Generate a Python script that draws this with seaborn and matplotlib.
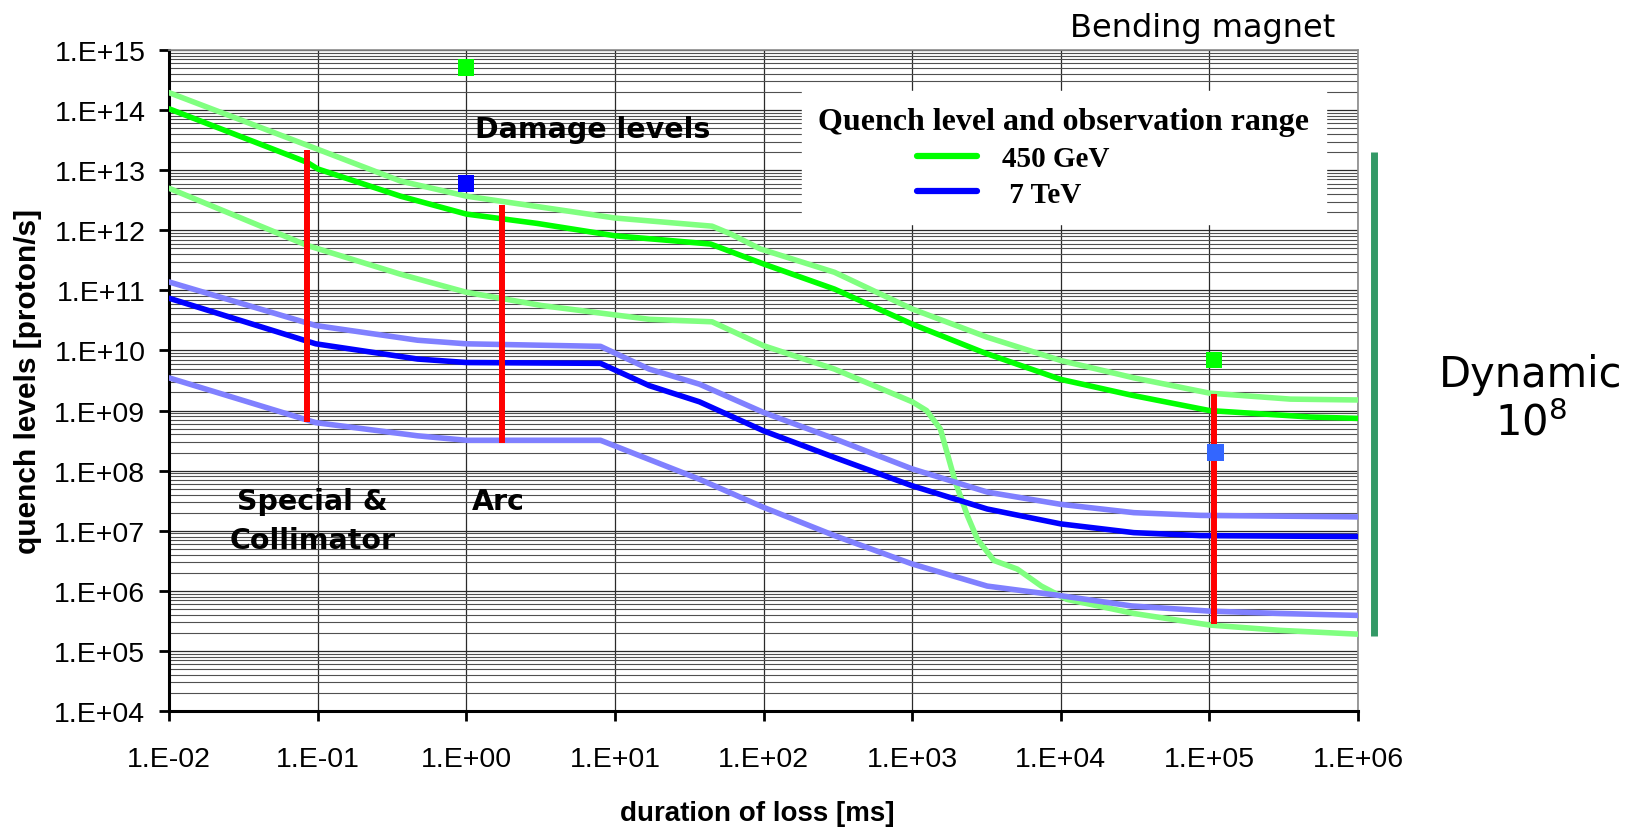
import matplotlib
matplotlib.use("Agg")
import matplotlib.pyplot as plt
import matplotlib.ticker as mticker
from matplotlib.lines import Line2D
import seaborn as sns
import numpy as np

# ── Data (duration in ms, level in proton/s) ────────────────────────────────
# 450 GeV quench level (central curve)
GEV_X = [0.01, 0.085, 0.1, 0.36, 1.0, 3.0, 10, 44, 100, 300, 1000, 3000,
         1e4, 3e4, 1e5, 4.8e5, 1e6]
GEV_Y = [1.05e14, 1.35e13, 1.05e13, 3.7e12, 1.86e12, 1.3e12, 8.1e11, 5.9e11,
         2.75e11, 1.05e11, 2.75e10, 9.3e9, 3.3e9, 1.8e9, 1.0e9, 7.8e8, 7.4e8]

# 450 GeV observation range, upper / lower
GEV_HI_X = [0.01, 0.085, 0.36, 1.0, 10, 45, 60, 95, 300, 1000, 3200, 1e4,
            3.1e4, 1e5, 3.5e5, 1e6]
GEV_HI_Y = [1.95e14, 2.6e13, 6.6e12, 3.7e12, 1.6e12, 1.17e12, 8.7e11, 4.9e11,
            2.0e11, 4.9e10, 1.66e10, 6.8e9, 3.5e9, 1.95e9, 1.55e9, 1.5e9]
GEV_LO_X = [0.01, 0.085, 0.36, 1.0, 3.2, 17, 45, 100, 300, 1000, 1250, 1550,
            1950, 2350, 2750, 3550, 5100, 7400, 1.1e4, 3.1e4, 1e5, 3e5, 1e6]
GEV_LO_Y = [5.0e12, 5.6e11, 1.86e11, 9.3e10, 5.6e10, 3.3e10, 3.0e10, 1.2e10,
            4.9e9, 1.4e9, 1.0e9, 4.9e8, 6.5e7, 1.8e7, 7.2e6, 3.2e6, 2.3e6,
            1.2e6, 7.2e5, 4.2e5, 2.7e5, 2.2e5, 1.9e5]

# 7 TeV quench level (central curve)
TEV_X = [0.01, 0.097, 0.47, 1.0, 8.0, 17, 37, 100, 300, 1000, 3200, 1e4,
         3.1e4, 8.7e4, 1e6]
TEV_Y = [7.4e10, 1.29e10, 7.2e9, 6.3e9, 6.1e9, 2.6e9, 1.4e9, 4.6e8, 1.66e8,
         5.6e7, 2.3e7, 1.3e7, 9.3e6, 8.3e6, 8.0e6]

# 7 TeV observation range, upper / lower
TEV_HI_X = [0.01, 0.097, 0.47, 1.0, 8.0, 17, 37, 100, 300, 1000, 3200, 1e4,
            3.1e4, 8.7e4, 1e6]
TEV_HI_Y = [1.38e11, 2.6e10, 1.48e10, 1.29e10, 1.17e10, 4.9e9, 2.75e9, 9.3e8,
            3.4e8, 1.07e8, 4.4e7, 2.75e7, 2.0e7, 1.8e7, 1.7e7]
TEV_LO_X = [0.01, 0.097, 0.47, 1.0, 8.0, 37, 100, 300, 1000, 3200, 1e4, 3e4,
            1e5, 3e5, 1e6]
TEV_LO_Y = [3.5e9, 6.3e8, 3.8e8, 3.2e8, 3.2e8, 7.2e7, 2.45e7, 8.3e6, 2.8e6,
            1.2e6, 8.3e5, 5.6e5, 4.6e5, 4.2e5, 3.9e5]

# observation ranges (red bars): position, bottom, top
RANGE_X = [0.085, 1.74, 1.08e5]
RANGE_LO = [6.5e8, 2.9e8, 2.8e5]
RANGE_HI = [2.15e13, 2.6e12, 1.85e9]

# damage levels (squares)
DMG_GEV_X = [1.0, 1.08e5]
DMG_GEV_Y = [5.1e14, 6.9e9]
DMG_TEV_X = [1.0]
DMG_TEV_Y = [6.0e12]
DMG_TEV2_X = [1.1e5]
DMG_TEV2_Y = [2.0e8]

# dynamic range bar on the right
DYN_X = 1.28e6
DYN_LO, DYN_HI = 1.8e5, 2.0e13

# axis decades
X_TICKS = [1e-2, 1e-1, 1e0, 1e1, 1e2, 1e3, 1e4, 1e5, 1e6]
Y_TICKS = [1e4, 1e5, 1e6, 1e7, 1e8, 1e9, 1e10, 1e11, 1e12, 1e13, 1e14, 1e15]

# ── Style ───────────────────────────────────────────────────────────────────
sns.set_theme(style="white", rc={"text.color": "black",
                                 "axes.labelcolor": "black",
                                 "xtick.color": "black",
                                 "ytick.color": "black"})
plt.rcParams["font.family"] = ["Liberation Sans", "DejaVu Sans"]

fig = plt.figure(figsize=(16.35, 8.29), dpi=100)
ax = fig.add_axes([0.1034, 0.1411, 0.7272, 0.7974])
ax.set_xscale("log")
ax.set_yscale("log")

curves = [
    (GEV_HI_X, GEV_HI_Y, "#80ff80"),
    (GEV_LO_X, GEV_LO_Y, "#80ff80"),
    (TEV_HI_X, TEV_HI_Y, "#8080ff"),
    (TEV_LO_X, TEV_LO_Y, "#8080ff"),
    (GEV_X, GEV_Y, "#00ff00"),
    (TEV_X, TEV_Y, "#0000ff"),
]
for xs, ys, col in curves:
    sns.lineplot(x=xs, y=ys, color=col, lw=4.0, sort=False, estimator=None,
                 legend=False, ax=ax, zorder=3)

# red observation bars
ax.vlines(RANGE_X, RANGE_LO, RANGE_HI, colors="#ff0000", lw=4.3, zorder=4)

# damage squares
sns.scatterplot(x=DMG_GEV_X, y=DMG_GEV_Y, marker="s", s=135, color="#00ff00",
                edgecolor="none", ax=ax, zorder=5)
sns.scatterplot(x=DMG_TEV_X, y=DMG_TEV_Y, marker="s", s=135, color="#0000ff",
                edgecolor="none", ax=ax, zorder=5)
sns.scatterplot(x=DMG_TEV2_X, y=DMG_TEV2_Y, marker="s", s=135, color="#3366ff",
                edgecolor="none", ax=ax, zorder=5)

# dynamic range bar outside the axes
ax.vlines(DYN_X, DYN_LO, DYN_HI, colors="#339966", lw=5, clip_on=False)

ax.set_xlim(1e-2, 1e6)
ax.set_ylim(1e4, 1e15)

# ticks & grid
fmt = mticker.FuncFormatter(lambda v, p: f"1.E{int(round(np.log10(v))):+03d}")
ax.xaxis.set_major_locator(mticker.FixedLocator(X_TICKS))
ax.yaxis.set_major_locator(mticker.FixedLocator(Y_TICKS))
ax.xaxis.set_major_formatter(fmt)
ax.yaxis.set_major_formatter(fmt)
ax.xaxis.set_minor_locator(mticker.NullLocator())
ax.yaxis.set_minor_locator(mticker.LogLocator(base=10, subs=np.arange(2, 10),
                                              numticks=200))
ax.yaxis.set_minor_formatter(mticker.NullFormatter())
ax.tick_params(axis="both", which="major", direction="out", length=7, width=2,
               labelsize=20.5, bottom=True, left=True)
ax.tick_params(axis="x", pad=18)
ax.tick_params(axis="y", pad=10)
ax.tick_params(axis="y", which="minor", length=0)
ax.grid(which="major", axis="both", color="#2a2a2a", lw=0.9, zorder=0)
ax.grid(which="minor", axis="y", color="#505050", lw=0.8, zorder=0)

for side in ["left", "bottom"]:
    ax.spines[side].set_color("black")
    ax.spines[side].set_linewidth(2.2)
for side in ["top", "right"]:
    ax.spines[side].set_color("#8a8a8a")
    ax.spines[side].set_linewidth(1.2)

ax.set_xlabel("duration of loss [ms]", fontsize=20, fontweight="bold")
ax.set_ylabel("quench levels [proton/s]", fontsize=21.5, fontweight="bold")
ax.xaxis.set_label_coords(0.495, -0.135)
ax.yaxis.set_label_coords(-0.107, 0.5)

# legend (trailing spaces push the entries left under the title)
title_font = {"family": "Liberation Serif", "weight": "bold", "size": 23}
entry_font = {"family": "Liberation Serif", "weight": "bold", "size": 21}
handles = [Line2D([], [], color="#00ff00", lw=4.5),
           Line2D([], [], color="#0000ff", lw=4.5)]
leg = ax.legend(handles, ["450 GeV" + " " * 14, " 7 TeV" + " " * 15],
                title="Quench level and observation range",
                title_fontproperties=title_font, prop=entry_font,
                loc="upper center", bbox_to_anchor=(0.7527, 0.938),
                borderaxespad=0, frameon=True, fancybox=False, framealpha=1,
                facecolor="white", edgecolor="white", handlelength=2.05,
                handletextpad=0.85, labelspacing=0.3, borderpad=0.55)
leg.set_zorder(6)

# annotations inside the plot
bold = dict(fontsize=20.5, fontweight="bold", family="DejaVu Sans",
            ha="center", va="baseline", zorder=6)
ax.text(7.1, 3.5e13, "Damage levels", **bold)
ax.text(0.092, 2.3e7, "Special &", **bold)
ax.text(0.092, 5.25e6, "Collimator", **bold)
ax.text(1.63, 2.3e7, "Arc", **bold)

# annotations around the plot
fig.text(1203 / 1635, 1 - 37.5 / 829, "Bending magnet", fontsize=23,
         family="DejaVu Sans", ha="center", va="baseline")
fig.text(1531 / 1635, 1 - 387 / 829, "Dynamic", fontsize=30,
         family="DejaVu Sans", ha="center", va="baseline")
fig.text(1531 / 1635, 1 - 436 / 829, r"$\mathregular{10^8}$", fontsize=30,
         family="DejaVu Sans", ha="center", va="baseline")

fig.savefig("out.png", dpi=100)
